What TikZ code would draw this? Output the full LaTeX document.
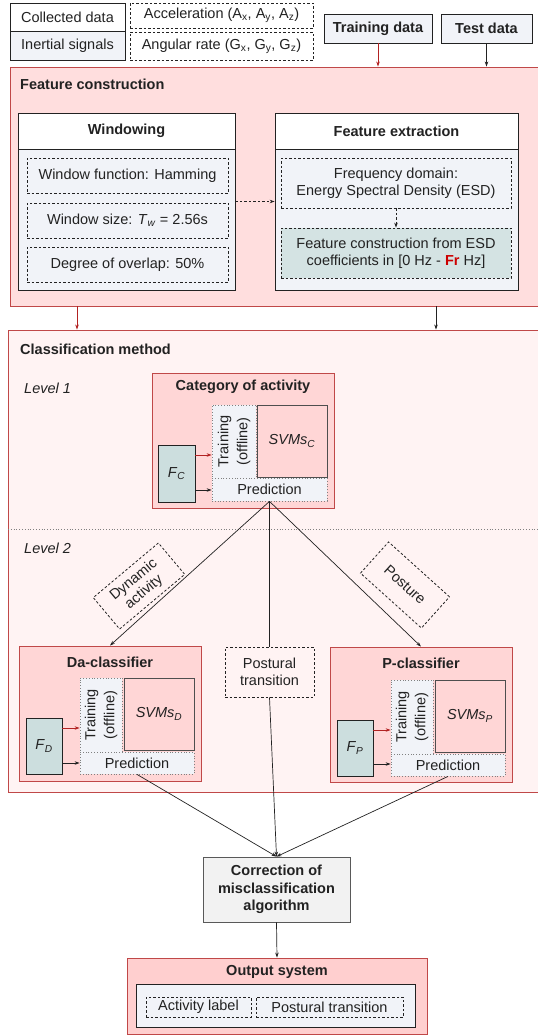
\documentclass[tikz,border=0pt]{standalone}
\usepackage{fontspec}
\setmainfont{Liberation Sans}
\usetikzlibrary{arrows.meta,calc}
\definecolor{dk}{HTML}{222222}
\definecolor{rb}{HTML}{C04848}
\definecolor{ar}{HTML}{B22222}
\definecolor{fcfill}{HTML}{FFDEDE}
\definecolor{cmfill}{HTML}{FFF3F3}
\definecolor{catfill}{HTML}{FFD6D6}
\definecolor{outfill}{HTML}{FFCFCF}
\definecolor{lb}{HTML}{F1F3F8}
\definecolor{teal}{HTML}{CCDEDE}
\definecolor{esd}{HTML}{D4E3E3}
\definecolor{corr}{HTML}{F2F2F2}
\definecolor{frc}{HTML}{CC0000}
\newcommand{\fs}{\fontsize{14.5}{17}\selectfont}
\newcommand{\sbs}[1]{\textsubscript{#1}}
\begin{document}
\begin{tikzpicture}[x=1pt,y=-1pt,
  every node/.style={font=\fs, inner sep=0pt, align=center, text=dk},
  box/.style={draw=dk, line width=0.8pt, rectangle},
  dbox/.style={box, dash pattern=on 2.5pt off 2pt},
  dotbox/.style={draw=gray, line width=0.8pt, dotted, fill=lb, rectangle},
  rbox/.style={draw=rb, line width=0.9pt, rectangle},
  arr/.style={-{Stealth[length=5pt,width=3.5pt]}, line width=0.7pt, draw=dk},
  rarr/.style={arr, draw=ar},
  ttl/.style={font=\fs\bfseries},
]
\useasboundingbox (0,0) rectangle (538,1036);
\clip (0,0) rectangle (538,1036);

% ---------- legend and inputs
\node[box, fill=white, minimum width=115pt, minimum height=28pt] (collected) at (67.5,17) {Collected data};
\node[box, fill=lb, minimum width=115pt, minimum height=29pt] (inertial) at (67.5,45.5) {Inertial signals};
\node[dbox, minimum width=183pt, minimum height=25pt] (accel) at (221.5,15.5) {Acceleration (A\sbs{x}, A\sbs{y}, A\sbs{z})};
\node[dbox, minimum width=183pt, minimum height=28pt] (angular) at (221.5,46) {Angular rate (G\sbs{x}, G\sbs{y}, G\sbs{z})};
\node[box, fill=lb, minimum width=108pt, minimum height=29pt, font=\fs\bfseries] (train) at (378,28.5) {Training data};
\node[box, fill=lb, minimum width=91pt, minimum height=29pt, font=\fs\bfseries] (test) at (486.5,28.5) {Test data};

% ---------- feature construction
\node[rbox, fill=fcfill, minimum width=535pt, minimum height=239pt] (fc) at (277.5,186.5) {};
\node[ttl, anchor=west] (fct) at (20,84) {Feature construction};
\draw[rarr] (train.south) -- (train.south |- fc.north);
\draw[arr] (test.south) -- (test.south |- fc.north);

\node[box, fill=lb, minimum width=217pt, minimum height=177pt] (win) at (126.5,201.5) {};
\node[box, fill=white, minimum width=217pt, minimum height=36pt, anchor=north, font=\fs\bfseries] (winh) at (win.north) {Windowing};
\node[dbox, minimum width=201pt, minimum height=35pt] (wf) at (127.5,175.5) {Window function: Hamming};
\node[dbox, minimum width=201pt, minimum height=35pt] (ws) at (127.5,220.5) {Window size: \textit{T}\sbs{\textit{w}} = 2.56s};
\node[dbox, minimum width=201pt, minimum height=35pt] (dov) at (127.5,264.5) {Degree of overlap: 50\%};

\node[box, fill=lb, minimum width=243pt, minimum height=177pt] (fe) at (396.5,201.5) {};
\node[box, fill=white, minimum width=243pt, minimum height=36pt, anchor=north, font=\fs\bfseries] (feh) at (fe.north) {Feature extraction};
\node[dbox, minimum width=230pt, minimum height=50pt] (fd) at (396,183) {Frequency domain:\\Energy Spectral Density (ESD)};
\node[dbox, fill=esd, minimum width=230pt, minimum height=50pt] (fce) at (396,253) {Feature construction from ESD\\coefficients in [0 Hz - \textcolor{frc}{\bfseries Fr} Hz]};
\draw[arr, dash pattern=on 2.5pt off 2pt] (win.east) -- (fe.west);
\draw[arr, dash pattern=on 2.5pt off 2pt] (fd.south) -- (fce.north);

% ---------- classification method
\node[rbox, fill=cmfill, minimum width=537pt, minimum height=462pt] (cm) at (276.5,561) {};
\coordinate (xa) at (77,0);
\coordinate (xb) at (436,0);
\draw[rarr] (xa |- fc.south) -- (xa |- cm.north);
\draw[arr] (xb |- fc.south) -- (xb |- cm.north);
\node[ttl, anchor=west] (cmt) at (20,349) {Classification method};
\node[anchor=west, font=\fs\itshape] (lv1) at (24,388) {Level 1};
\draw[dotted, gray, line width=0.8pt] (8,529) -- (545,529);
\node[anchor=west, font=\fs\itshape] (lv2) at (24,548) {Level 2};

% Category of activity
\node[rbox, fill=catfill, minimum width=182pt, minimum height=135pt] (cat) at (243,440.5) {};
\node[ttl] (catt) at (243,387) {Category of activity};
\node[dotbox, minimum width=44pt, minimum height=73pt] (trC) at (234,441.5) {};
\node[rotate=90, font=\fontsize{14.5}{19}\selectfont] (trCt) at (trC.center) {Training\\(offline)};
\node[box, draw=dk!80, fill=catfill, minimum width=70pt, minimum height=72pt] (svmC) at (292,441) {\textit{SVMs}\sbs{\textit{C}}};
\node[dotbox, minimum width=115pt, minimum height=23pt] (predC) at (269.5,489.5) {Prediction};
\node[box, fill=teal, minimum width=37pt, minimum height=57pt] (FC) at (176.5,473.5) {\textit{F}\sbs{\textit{C}}};
\draw[rarr] ([yshift=18.5pt]FC.east) -- ([yshift=18.5pt]FC.east -| trC.west);
\draw[arr] ([yshift=-16.5pt]FC.east) -- ([yshift=-16.5pt]FC.east -| predC.west);

% Da-classifier
\node[rbox, fill=catfill, minimum width=182pt, minimum height=135pt] (da) at (110,713.5) {};
\node[ttl] (dat) at (110,662) {Da-classifier};
\node[dotbox, minimum width=42pt, minimum height=74pt] (trD) at (101,715) {};
\node[rotate=90, font=\fontsize{14.5}{19}\selectfont] (trDt) at (trD.center) {Training\\(offline)};
\node[box, draw=dk!80, fill=catfill, minimum width=70pt, minimum height=72pt] (svmD) at (159,714) {\textit{SVMs}\sbs{\textit{D}}};
\node[dotbox, minimum width=114pt, minimum height=22pt] (predD) at (137,763) {Prediction};
\node[box, fill=teal, minimum width=36pt, minimum height=56pt] (FD) at (44,746) {\textit{F}\sbs{\textit{D}}};
\draw[rarr] ([yshift=18pt]FD.east) -- ([yshift=18pt]FD.east -| trD.west);
\draw[arr] ([yshift=-17pt]FD.east) -- ([yshift=-17pt]FD.east -| predD.west);

% P-classifier
\node[rbox, fill=catfill, minimum width=182pt, minimum height=135pt] (pc) at (421,714.5) {};
\node[ttl] (pct) at (421,663) {P-classifier};
\node[dotbox, minimum width=42pt, minimum height=74pt] (trP) at (412,717) {};
\node[rotate=90, font=\fontsize{14.5}{19}\selectfont] (trPt) at (trP.center) {Training\\(offline)};
\node[box, draw=dk!80, fill=catfill, minimum width=70pt, minimum height=72pt] (svmP) at (470,716) {\textit{SVMs}\sbs{\textit{P}}};
\node[dotbox, minimum width=114pt, minimum height=22pt] (predP) at (448,765) {Prediction};
\node[box, fill=teal, minimum width=36pt, minimum height=56pt] (FP) at (355,748) {\textit{F}\sbs{\textit{P}}};
\draw[rarr] ([yshift=18pt]FP.east) -- ([yshift=18pt]FP.east -| trP.west);
\draw[arr] ([yshift=-16pt]FP.east) -- ([yshift=-16pt]FP.east -| predP.west);

% Postural transition
\node[dbox, minimum width=89pt, minimum height=50pt] (pt) at (269.5,672) {Postural\\transition};

% branch labels
\node[dbox, rotate=40, minimum width=85pt, minimum height=41pt, font=\fontsize{14.5}{16}\selectfont] (dyn) at (139,586) {Dynamic\\activity};
\node[dbox, rotate=-42, minimum width=82pt, minimum height=42pt] (pos) at (405,585) {Posture};

\draw[arr] (predC.south) -- (da.north);
\draw[line width=0.7pt, dk] (predC.south) -- (pt.north);
\draw[arr] (predC.south) -- (pc.north);

% correction
\node[box, draw=dk!75, fill=corr, minimum width=147pt, minimum height=65pt, font=\fontsize{14.5}{17.5}\selectfont\bfseries] (corr) at (276.5,889.5) {Correction of\\misclassification\\algorithm};
\draw[arr] (predD.south) -- (corr.north);
\draw[arr] (pt.south) -- (corr.north);
\draw[arr] (predP.south) -- (corr.north);

% output
\node[rbox, fill=outfill, minimum width=300pt, minimum height=76pt] (out) at (277,996) {};
\draw[arr] (corr.south) -- (out.north);
\node[ttl] (outt) at (277,972) {Output system};
\node[box, fill=lb, minimum width=279pt, minimum height=43pt] (outin) at (275.5,1005.5) {};
\node[dbox, minimum width=105pt, minimum height=20pt] (al) at (198.5,1007) {Activity label};
\node[dbox, minimum width=147pt, minimum height=20pt] (ptl) at (329.5,1007) {Postural transition};
\end{tikzpicture}
\end{document}
